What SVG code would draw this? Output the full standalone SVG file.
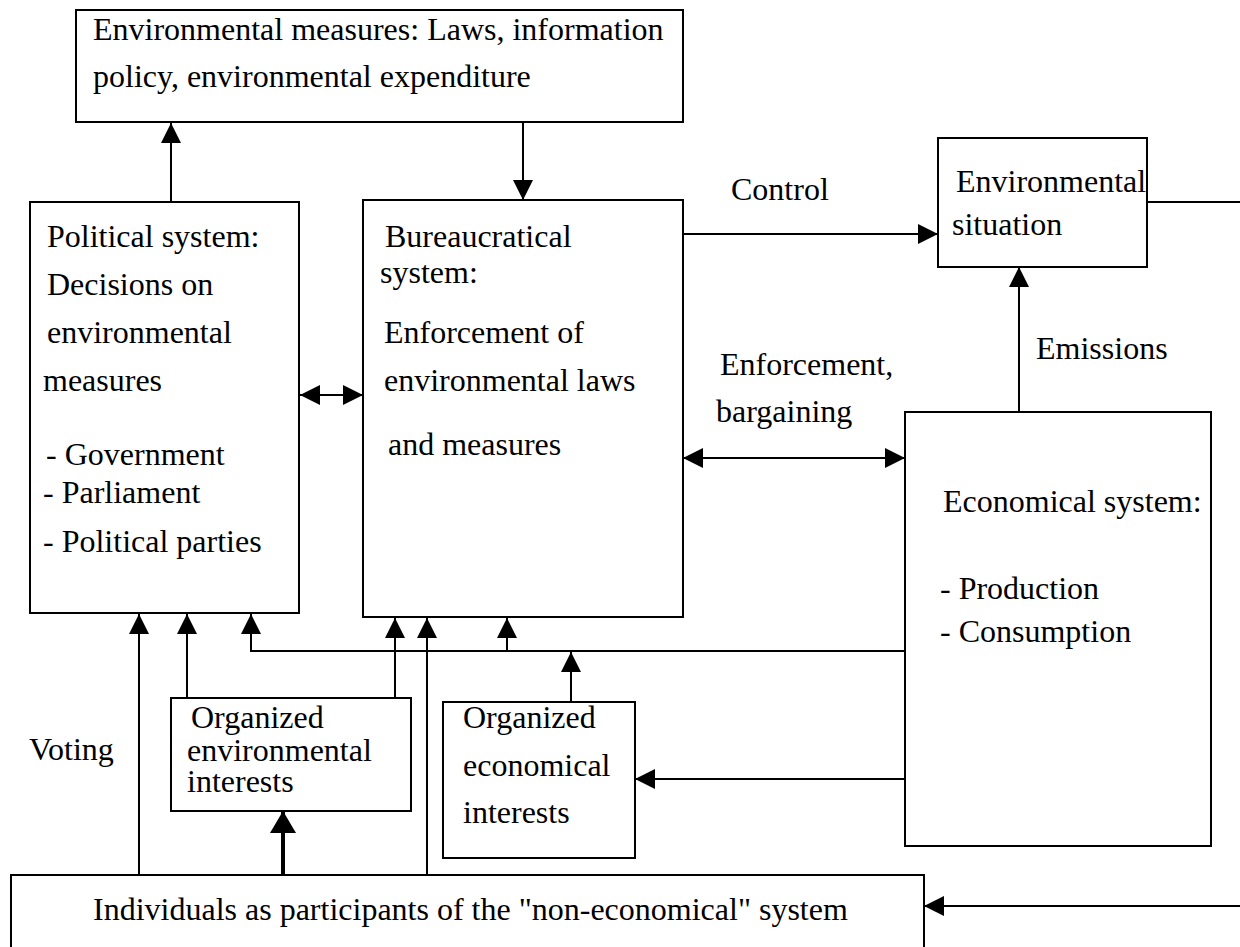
<svg xmlns="http://www.w3.org/2000/svg" width="1240" height="947" viewBox="0 0 1240 947">
<style>
  .box { fill: #fff; stroke: #000; stroke-width: 2; }
  .t { font-family: "Liberation Serif", "Times New Roman", serif; font-size: 32px; fill: #000; }
  .c { fill: none; stroke: #000; stroke-width: 2; }
  .a { marker-end: url(#ah); }
  .d { marker-start: url(#ah); marker-end: url(#ah); }
  .thick { fill: none; stroke: #000; stroke-width: 4; marker-end: url(#ahb); }
</style>
<defs>
  <marker id="ah" markerUnits="userSpaceOnUse" markerWidth="20" markerHeight="20" viewBox="0 0 20 20" refX="20" refY="10" orient="auto-start-reverse">
    <path d="M0,0 L20,10 L0,20 Z" fill="#000"/>
  </marker>
  <marker id="ahb" markerUnits="userSpaceOnUse" markerWidth="22" markerHeight="26" viewBox="0 0 22 26" refX="22" refY="13" orient="auto">
    <path d="M0,0 L22,13 L0,26 Z" fill="#000"/>
  </marker>
</defs>
<rect width="1240" height="947" fill="#fff"/>

<g id="connectors">
  <line class="c a" x1="171" y1="202" x2="171" y2="123"/>
  <line class="c a" x1="523" y1="122" x2="523" y2="200"/>
  <line class="c a" x1="683" y1="234" x2="938" y2="234"/>
  <line class="c a" x1="1019" y1="412" x2="1019" y2="267"/>
  <line class="c d" x1="300" y1="395" x2="363" y2="395"/>
  <line class="c d" x1="683" y1="458" x2="905" y2="458"/>
  <line class="c" x1="1147" y1="202" x2="1240" y2="202"/>
  <line class="c a" x1="1240" y1="906" x2="924" y2="906"/>
  <line class="c a" x1="139" y1="875" x2="139" y2="614"/>
  <line class="c a" x1="187" y1="698" x2="187" y2="614"/>
  <polyline class="c a" points="905,651 251,651 251,614"/>
  <line class="c a" x1="395" y1="698" x2="395" y2="618"/>
  <line class="c a" x1="427" y1="875" x2="427" y2="618"/>
  <line class="c a" x1="507" y1="651" x2="507" y2="618"/>
  <line class="c a" x1="571" y1="702" x2="571" y2="652"/>
  <line class="c a" x1="905" y1="779" x2="635" y2="779"/>
  <line class="thick" x1="283" y1="875" x2="283" y2="811"/>
</g>

<g id="measures">
  <rect class="box" x="76" y="10" width="607" height="112"/>
  <text class="t" x="93" y="40">Environmental measures: Laws, information</text>
  <text class="t" x="93" y="87">policy, environmental expenditure</text>
</g>

<g id="political">
  <rect class="box" x="30" y="202" width="269" height="411"/>
  <text class="t" x="47" y="247">Political system:</text>
  <text class="t" x="47" y="295">Decisions on</text>
  <text class="t" x="47" y="343">environmental</text>
  <text class="t" x="43" y="391">measures</text>
  <text class="t" x="46" y="465">- Government</text>
  <text class="t" x="43" y="503">- Parliament</text>
  <text class="t" x="43" y="552">- Political parties</text>
</g>

<g id="bureaucratical">
  <rect class="box" x="363" y="200" width="320" height="417"/>
  <text class="t" x="385" y="247">Bureaucratical</text>
  <text class="t" x="380" y="283">system:</text>
  <text class="t" x="384" y="343">Enforcement of</text>
  <text class="t" x="384" y="391">environmental laws</text>
  <text class="t" x="388" y="455">and measures</text>
</g>

<g id="situation">
  <rect class="box" x="938" y="138" width="209" height="129"/>
  <text class="t" x="956" y="192">Environmental</text>
  <text class="t" x="952" y="235">situation</text>
</g>

<g id="economical">
  <rect class="box" x="905" y="412" width="306" height="434"/>
  <text class="t" x="943" y="512">Economical system:</text>
  <text class="t" x="940" y="599">- Production</text>
  <text class="t" x="940" y="642">- Consumption</text>
</g>

<g id="org-env">
  <rect class="box" x="171" y="698" width="240" height="113"/>
  <text class="t" x="191" y="728">Organized</text>
  <text class="t" x="187" y="761">environmental</text>
  <text class="t" x="187" y="792">interests</text>
</g>

<g id="org-econ">
  <rect class="box" x="443" y="702" width="192" height="156"/>
  <text class="t" x="463" y="728">Organized</text>
  <text class="t" x="463" y="776">economical</text>
  <text class="t" x="463" y="823">interests</text>
</g>

<g id="individuals">
  <rect class="box" x="11" y="875" width="913" height="90"/>
  <text class="t" x="93" y="920">Individuals as participants of the "non-economical" system</text>
</g>

<g id="labels">
  <text class="t" x="731" y="200">Control</text>
  <text class="t" x="720" y="375">Enforcement,</text>
  <text class="t" x="716" y="422">bargaining</text>
  <text class="t" x="1036" y="359">Emissions</text>
  <text class="t" x="29" y="760">Voting</text>
</g>
</svg>
